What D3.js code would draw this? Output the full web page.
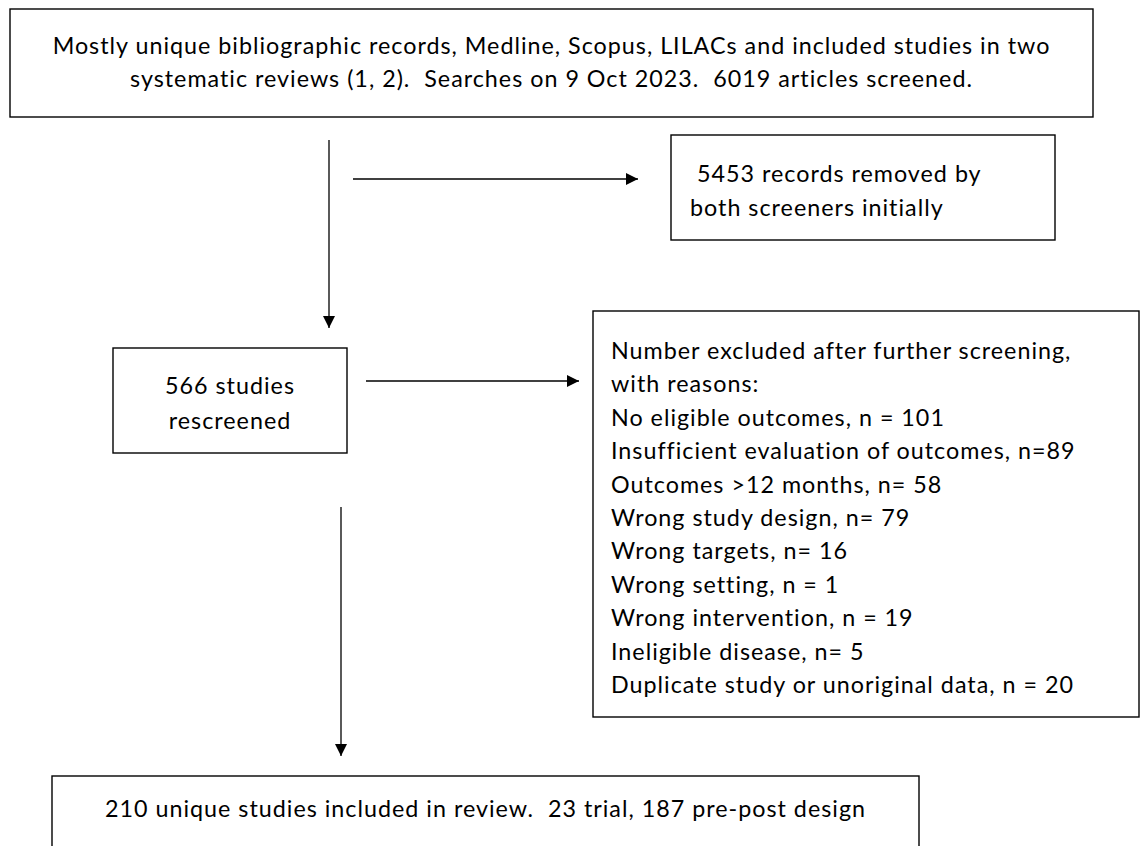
<!DOCTYPE html>
<html>
<head>
<meta charset="utf-8">
<script src="https://cdn.jsdelivr.net/npm/d3@7"></script>
<style>
  body { margin: 0; background: #fff; }
  svg { display: block; }
  text { font-family: Lato, sans-serif; fill: #000; white-space: pre; letter-spacing: 1px; }
</style>
</head>
<body>
<svg width="1140" height="846"></svg>
<script>
// box texts
const searchLines = [
  'Mostly unique bibliographic records, Medline, Scopus, LILACs and included studies in two',
  'systematic reviews (1, 2).  Searches on 9 Oct 2023.  6019 articles screened.'
];
const removedLines = [' 5453 records removed by', 'both screeners initially'];
const rescreenLines = ['566 studies', 'rescreened'];
const excludedHeader = ['Number excluded after further screening,', 'with reasons:'];
const reasons = [
  'No eligible outcomes, n = 101',
  'Insufficient evaluation of outcomes, n=89',
  'Outcomes >12 months, n= 58',
  'Wrong study design, n= 79',
  'Wrong targets, n= 16',
  'Wrong setting, n = 1',
  'Wrong intervention, n = 19',
  'Ineligible disease, n= 5',
  'Duplicate study or unoriginal data, n = 20'
];
const includedLines = ['210 unique studies included in review.  23 trial, 187 pre-post design'];

const drawFlow = () => {
  const svg = d3.select('svg');
  const defs = svg.append('defs');
  defs.append('marker')
    .attr('id', 'head')
    .attr('viewBox', '0 0 12 12')
    .attr('refX', 12).attr('refY', 6)
    .attr('markerWidth', 12).attr('markerHeight', 12)
    .attr('markerUnits', 'userSpaceOnUse')
    .attr('orient', 'auto')
    .append('path')
      .attr('d', 'M0,0 L12,6 L0,12 Z')
      .attr('fill', '#000');

  const fontSize = 23.3;
  const boxes = [
    { x: 10, y: 9, w: 1083, h: 108, lines: searchLines, anchor: 'middle', y0: 48, dy: 33 },
    { x: 671, y: 135, w: 384, h: 105, lines: removedLines, anchor: 'start', tx: 690, y0: 176, dy: 34 },
    { x: 113, y: 348, w: 234, h: 105, lines: rescreenLines, anchor: 'middle', y0: 388, dy: 35 },
    { x: 593, y: 311, w: 546, h: 406, lines: excludedHeader.concat(reasons), anchor: 'start', tx: 611, y0: 353, dy: 33.4 },
    { x: 52, y: 776, w: 867, h: 80, lines: includedLines, anchor: 'middle', y0: 811, dy: 32 }
  ];

  const boxGroup = svg.append('g').attr('class', 'boxes');
  boxes.forEach(b => {
    const g = boxGroup.append('g');
    g.append('rect')
      .attr('x', b.x).attr('y', b.y)
      .attr('width', b.w).attr('height', b.h)
      .attr('fill', '#fff')
      .attr('stroke', '#000')
      .attr('stroke-width', 1.4);
    g.selectAll('text')
      .data(b.lines)
      .enter()
      .append('text')
        .attr('x', b.anchor === 'middle' ? b.x + b.w / 2 : b.tx)
        .attr('y', (d, i) => b.y0 + i * b.dy)
        .attr('dominant-baseline', 'middle')
        .attr('text-anchor', b.anchor)
        .style('font-size', fontSize + 'px')
        .text(d => d);
  });

  const arrows = [
    { x1: 329, y1: 140, x2: 329, y2: 328 },
    { x1: 353, y1: 179, x2: 638, y2: 179 },
    { x1: 366, y1: 381, x2: 579, y2: 381 },
    { x1: 341, y1: 507, x2: 341, y2: 756 }
  ];
  svg.append('g').attr('class', 'arrows')
    .selectAll('line')
    .data(arrows)
    .enter()
    .append('line')
      .attr('x1', d => d.x1).attr('y1', d => d.y1)
      .attr('x2', d => d.x2).attr('y2', d => d.y2)
      .attr('stroke', '#000')
      .attr('stroke-width', 1.3)
      .attr('marker-end', 'url(#head)');
};

drawFlow();
</script>
</body>
</html>
